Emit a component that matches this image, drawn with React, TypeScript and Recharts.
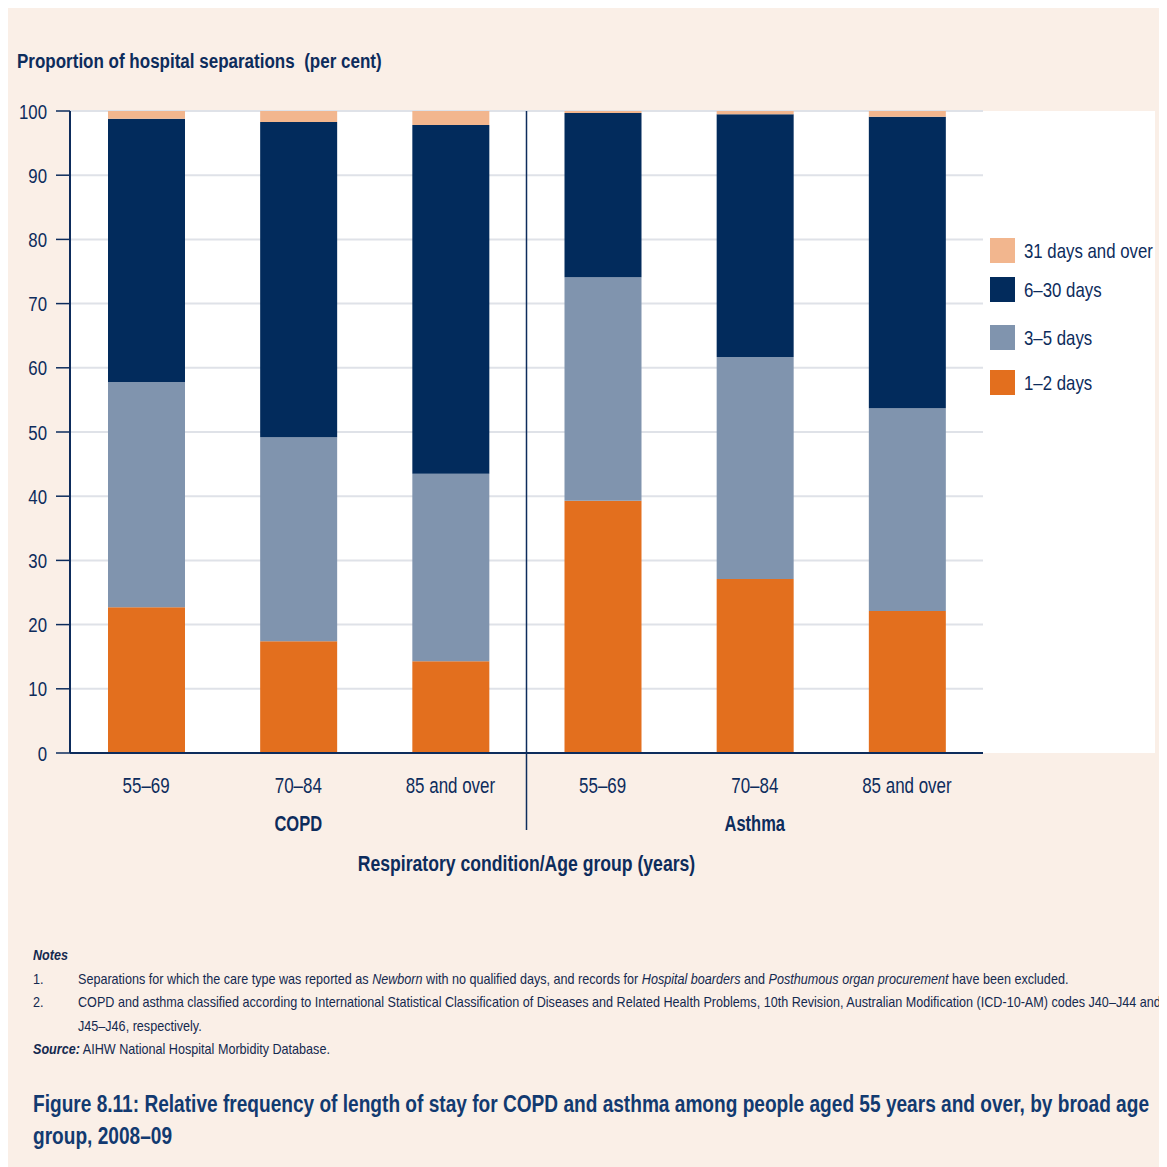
import React from 'react';
import {
  BarChart,
  Bar,
  XAxis,
  YAxis,
  CartesianGrid,
  ReferenceLine,
} from 'recharts';

// data (per cent of separations)
const conditions = ['COPD', 'COPD', 'COPD', 'Asthma', 'Asthma', 'Asthma'];
const ageGroups = ['55–69', '70–84', '85 and over', '55–69', '70–84', '85 and over'];
const days1to2 = [22.7, 17.4, 14.3, 39.3, 27.1, 22.1];
const days3to5 = [35.1, 31.8, 29.2, 34.8, 34.6, 31.6];
const days6to30 = [41.0, 49.1, 54.3, 25.6, 37.8, 45.4];
const days31plus = [1.2, 1.7, 2.2, 0.3, 0.5, 0.9];
const yTicks = [0, 10, 20, 30, 40, 50, 60, 70, 80, 90, 100];

const NAVY = '#0d2c5c';
const FONT = '"Liberation Sans", Arial, sans-serif';
// the original uses a condensed face; squeeze a regular one horizontally
const SX = 0.8;

const series = [
  { key: 'd1', name: '1–2 days', values: days1to2, color: '#e36f1e' },
  { key: 'd3', name: '3–5 days', values: days3to5, color: '#8094ae' },
  { key: 'd6', name: '6–30 days', values: days6to30, color: '#022b5c' },
  { key: 'd31', name: '31 days and over', values: days31plus, color: '#f2b68e' },
];

const chartData = ageGroups.map((age, i) => {
  const row: any = { key: conditions[i] + ' ' + age, age, condition: conditions[i] };
  series.forEach((s) => {
    row[s.key] = s.values[i];
  });
  return row;
});

// chart geometry
const W = 1159;
const H = 900;
const M = { top: 103, right: 184, left: 0, bottom: 0 };
const Y_W = 62;
const X_H = H - 745;

function AgeTick(props: any) {
  const { x, y, payload } = props;
  const i = payload?.index ?? props.index ?? 0;
  const showGroup = i === 1 || i === 4;
  return (
    <g>
      <text
        transform={`translate(${x} ${y + 40}) scale(0.77 1)`}
        textAnchor="middle"
        fill={NAVY}
        fontSize={22}
        fontFamily={FONT}
      >
        {ageGroups[i]}
      </text>
      {showGroup && (
        <text
          transform={`translate(${x} ${y + 78}) scale(0.75 1)`}
          textAnchor="middle"
          fill={NAVY}
          fontSize={22}
          fontWeight="bold"
          fontFamily={FONT}
        >
          {conditions[i]}
        </text>
      )}
    </g>
  );
}

function ValueTick(props: any) {
  const { x, y, payload } = props;
  return (
    <text
      transform={`translate(${x} ${y + 7.5}) scale(${SX} 1)`}
      textAnchor="end"
      fill={NAVY}
      fontSize={21}
      fontFamily={FONT}
    >
      {payload.value}
    </text>
  );
}

function Divider(props: any) {
  const { x1, y1, x2, y2 } = props;
  return (
    <line x1={x1} y1={Math.min(y1, y2)} x2={x2} y2={Math.max(y1, y2) + 77} stroke={NAVY} strokeWidth={1.5} />
  );
}

function Squeeze({ left, top, width, sx, style, children }: any) {
  return (
    <div style={{ position: 'absolute', left, top }}>
      <div style={{ width: width / sx, transform: `scaleX(${sx})`, transformOrigin: '0 0', ...style }}>
        {children}
      </div>
    </div>
  );
}

function LegendBox() {
  const items = [...series].reverse();
  const gaps = [0, 14, 23, 20];
  return (
    <div style={{ position: 'absolute', left: 982, top: 230 }}>
      {items.map((s, i) => (
        <div key={s.key} style={{ display: 'flex', alignItems: 'center', marginTop: gaps[i], height: 25 }}>
          <span style={{ width: 25, height: 25, flexShrink: 0, background: s.color, display: 'inline-block' }} />
          <span
            style={{
              marginLeft: 9,
              fontSize: 21,
              color: NAVY,
              whiteSpace: 'nowrap',
              display: 'inline-block',
              transform: `scaleX(${SX})`,
              transformOrigin: '0 50%',
            }}
          >
            {s.name}
          </span>
        </div>
      ))}
    </div>
  );
}

export default function App() {
  const plotLeft = M.left + Y_W;
  const plotRight = W - M.right;
  return (
    <div
      style={{ position: 'relative', width: W, height: 1159, background: '#faefe7', color: NAVY, fontFamily: FONT }}
    >
      <div
        style={{
          position: 'absolute',
          left: plotLeft,
          top: M.top,
          width: 1147 - plotLeft,
          height: 745 - M.top,
          background: '#ffffff',
        }}
      />
      <Squeeze left={9} top={42} width={600} sx={0.85} style={{ fontSize: 20, fontWeight: 'bold', whiteSpace: 'pre' }}>
        {'Proportion of hospital separations  (per cent)'}
      </Squeeze>
      <div style={{ position: 'absolute', left: 0, top: 0 }}>
        <BarChart width={W} height={H} data={chartData} margin={M} barSize={77}>
          <CartesianGrid vertical={false} stroke="#dfe2e8" strokeWidth={2} />
          <XAxis
            dataKey="key"
            height={X_H}
            interval={0}
            tickLine={false}
            tickSize={0}
            tickMargin={0}
            axisLine={{ stroke: NAVY, strokeWidth: 2 }}
            tick={<AgeTick />}
          />
          <YAxis
            width={Y_W}
            domain={[0, 100]}
            ticks={yTicks}
            interval={0}
            tickSize={14}
            tickMargin={9}
            axisLine={{ stroke: NAVY, strokeWidth: 2 }}
            tickLine={{ stroke: NAVY, strokeWidth: 1.5 }}
            tick={<ValueTick />}
          />
          {series.map((s) => (
            <Bar key={s.key} dataKey={s.key} name={s.name} stackId="a" fill={s.color} isAnimationActive={false} />
          ))}
          <ReferenceLine x={chartData[3].key} position="start" shape={<Divider />} />
        </BarChart>
      </div>
      <LegendBox />
      <Squeeze
        left={plotLeft}
        top={843}
        width={plotRight - plotLeft}
        sx={0.8}
        style={{ textAlign: 'center', fontSize: 22, fontWeight: 'bold' }}
      >
        Respiratory condition/Age group (years)
      </Squeeze>
      <Squeeze left={25} top={935} width={1135} sx={0.84} style={{ fontSize: 15, color: '#14294f', lineHeight: '23.6px' }}>
        <div style={{ fontWeight: 'bold', fontStyle: 'italic' }}>Notes</div>
        <div style={{ display: 'flex' }}>
          <span style={{ width: 45 / 0.84, flexShrink: 0 }}>1.</span>
          <span>
            Separations for which the care type was reported as <i>Newborn</i> with no qualified days, and records for{' '}
            <i>Hospital boarders</i> and <i>Posthumous organ procurement</i> have been excluded.
          </span>
        </div>
        <div style={{ display: 'flex' }}>
          <span style={{ width: 45 / 0.84, flexShrink: 0 }}>2.</span>
          <span>
            COPD and asthma classified according to International Statistical Classification of Diseases and Related
            Health Problems, 10th Revision, Australian Modification (ICD-10-AM) codes J40–J44 and J45–J46, respectively.
          </span>
        </div>
        <div>
          <b>
            <i>Source:</i>
          </b>
          {'  '}AIHW National Hospital Morbidity Database.
        </div>
      </Squeeze>
      <Squeeze
        left={25}
        top={1080}
        width={1130}
        sx={0.83}
        style={{ fontSize: 23, fontWeight: 'bold', lineHeight: '32px', color: '#123a70' }}
      >
        Figure 8.11: Relative frequency of length of stay for COPD and asthma among people aged 55 years and over, by
        broad age group, 2008–09
      </Squeeze>
    </div>
  );
}
